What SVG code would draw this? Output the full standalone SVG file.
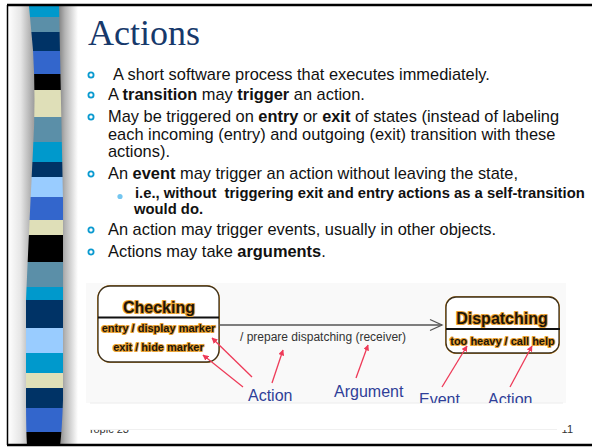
<svg xmlns="http://www.w3.org/2000/svg" width="592" height="447" viewBox="0 0 592 447">
  <defs>
    <style>
      .body { font-family: "Liberation Sans", Arial, sans-serif; font-size: 16.4px; fill: #111; }
      .sub { font-family: "Liberation Sans", Arial, sans-serif; font-size: 14.8px; font-weight: bold; fill: #111; }
      .b { font-weight: bold; }
      .ring { fill: none; stroke: #0a9ad0; stroke-width: 1.8; }
      .state { fill: #fff; stroke: #3b301e; stroke-width: 1.3; }
      .glow { fill: none; stroke: #e39a2b; stroke-width: 3; }
      .halo { font-family: "Liberation Sans", Arial, sans-serif; font-weight: bold; fill: #1c140a; stroke: #e8a030; stroke-width: 2.2; stroke-linejoin: round; paint-order: stroke; text-anchor: middle; }
      .divider { stroke: #111; stroke-width: 2; }
      .trans { stroke: #555; stroke-width: 1.3; fill: none; }
      .pointer { stroke: #ee3a58; stroke-width: 1.3; fill: none; marker-end: url(#redhead); }
      .note { font-family: "Liberation Sans", Arial, sans-serif; font-size: 16px; fill: #2f3f98; }
      .foot { font-family: "Liberation Sans", Arial, sans-serif; font-size: 11px; fill: #333; }
    </style>
    <linearGradient id="shadeL" x1="0" y1="0" x2="1" y2="0">
      <stop offset="0" stop-color="#ffffff"/>
      <stop offset="0.45" stop-color="#e6e6e6"/>
      <stop offset="1" stop-color="#949494"/>
    </linearGradient>
    <linearGradient id="shadeR" x1="0" y1="0" x2="1" y2="0">
      <stop offset="0" stop-color="#7c7c7c"/>
      <stop offset="0.35" stop-color="#b4b4b4"/>
      <stop offset="1" stop-color="#ffffff"/>
    </linearGradient>
    <clipPath id="band">
      <path d="M29,6 L59,6 Q61,100 63,200 L63,400 Q62,430 60,446 L27,446 Q26,430 26,400 L26,300 Q29,230 33,150 Q36,100 33,50 Z"/>
    </clipPath>
    <clipPath id="pic">
      <rect x="86" y="283" width="480" height="120"/>
    </clipPath>
    <marker id="redhead" viewBox="0 0 10 10" refX="9" refY="5" markerWidth="6" markerHeight="6" orient="auto" markerUnits="userSpaceOnUse">
      <path d="M0,0 L10,5 L0,10 Z" fill="#ee3a58"/>
    </marker>
  </defs>

  <rect x="0" y="0" width="592" height="447" fill="#fff"/>

  <!-- shaded column behind the striped band -->
  <rect x="8" y="6" width="28" height="439" fill="url(#shadeL)"/>
  <rect x="58" y="6" width="20" height="439" fill="url(#shadeR)"/>

  <!-- striped band -->
  <g id="stripes" clip-path="url(#band)">
    <rect x="20" y="6" width="50" height="11" fill="#0099cc"/>
    <rect x="20" y="17" width="50" height="15" fill="#5b8fa8"/>
    <rect x="20" y="32" width="50" height="19" fill="#003366"/>
    <rect x="20" y="51" width="50" height="23" fill="#3366cc"/>
    <rect x="20" y="74" width="50" height="16" fill="#000000"/>
    <rect x="20" y="90" width="50" height="27" fill="#dfdfb8"/>
    <rect x="20" y="117" width="50" height="25" fill="#5b8fa8"/>
    <rect x="20" y="142" width="50" height="20" fill="#0099cc"/>
    <rect x="20" y="162" width="50" height="15" fill="#003366"/>
    <rect x="20" y="177" width="50" height="20" fill="#99ccff"/>
    <rect x="20" y="197" width="50" height="23" fill="#3366cc"/>
    <rect x="20" y="220" width="50" height="15" fill="#dfdfb8"/>
    <rect x="20" y="235" width="50" height="27" fill="#000000"/>
    <rect x="20" y="262" width="50" height="25" fill="#5b8fa8"/>
    <rect x="20" y="287" width="50" height="13" fill="#0099cc"/>
    <rect x="20" y="300" width="50" height="28" fill="#003366"/>
    <rect x="20" y="328" width="50" height="25" fill="#99ccff"/>
    <rect x="20" y="353" width="50" height="20" fill="#0099cc"/>
    <rect x="20" y="373" width="50" height="15" fill="#dfdfb8"/>
    <rect x="20" y="388" width="50" height="20" fill="#003366"/>
    <rect x="20" y="408" width="50" height="24" fill="#3366cc"/>
    <rect x="20" y="432" width="50" height="14" fill="#000000"/>
  </g>

  <!-- page frame -->
  <g id="frame" stroke="#000" fill="none">
    <line x1="7" y1="5" x2="592" y2="5" stroke-width="2.5"/>
    <line x1="7.5" y1="5" x2="7.5" y2="445" stroke-width="1.5"/>
    <line x1="7" y1="445" x2="592" y2="445" stroke-width="2.5"/>
  </g>

  <!-- title -->
  <text x="88" y="45" font-family="'Liberation Serif', 'Times New Roman', serif" font-size="36" fill="#17396b">Actions</text>

  <!-- bullet list -->
  <g id="bullets">
    <circle class="ring" cx="91" cy="75" r="2.6"/>
    <circle class="ring" cx="91" cy="95" r="2.6"/>
    <circle class="ring" cx="91" cy="117" r="2.6"/>
    <circle class="ring" cx="91" cy="174" r="2.6"/>
    <circle class="ring" cx="91" cy="230" r="2.6"/>
    <circle class="ring" cx="91" cy="252" r="2.6"/>
    <circle cx="120" cy="196.5" r="2.6" fill="#74c6f0"/>

    <text class="body" x="113" y="80">A short software process that executes immediately.</text>
    <text class="body" x="108" y="100">A <tspan class="b">transition</tspan> may <tspan class="b">trigger</tspan> an action.</text>
    <text class="body" x="108" y="122">May be triggered on <tspan class="b">entry</tspan> or <tspan class="b">exit</tspan> of states (instead of labeling</text>
    <text class="body" x="108" y="139.5">each incoming (entry) and outgoing (exit) transition with these</text>
    <text class="body" x="108" y="157">actions).</text>
    <text class="body" x="108" y="179">An <tspan class="b">event</tspan> may trigger an action without leaving the state,</text>
    <text class="sub" x="135" y="198" xml:space="preserve">i.e., without  triggering exit and entry actions as a self-transition</text>
    <text class="sub" x="134" y="214">would do.</text>
    <text class="body" x="108" y="235">An action may trigger events, usually in other objects.</text>
    <text class="body" x="108" y="257">Actions may take <tspan class="b">arguments</tspan>.</text>
  </g>

  <!-- footer, partly covered by the figure panel -->
  <text class="foot" x="88" y="433">Topic 23</text>
  <text class="foot" x="573" y="433" text-anchor="end">11</text>

  <!-- figure panel -->
  <rect x="86" y="283" width="480" height="147" fill="#fff"/>
  <rect x="86" y="283" width="480" height="120" fill="#f9f9f9"/>
  <line x1="90" y1="403" x2="563" y2="403" stroke="#ececec" stroke-width="1"/>
  <line x1="90" y1="429.5" x2="557" y2="429.5" stroke="#f0f0f0" stroke-width="1"/>

  <g clip-path="url(#pic)">
    <!-- state: Checking -->
    <g id="state-checking">
      <rect class="glow" x="98.5" y="286.5" width="120" height="75" rx="12"/>
      <rect class="state" x="98" y="286" width="121" height="76" rx="12"/>
      <line class="divider" x1="98" y1="317.5" x2="219" y2="317.5"/>
      <text class="halo" x="159" y="313" font-size="16">Checking</text>
      <text class="halo" x="158.5" y="332" font-size="11">entry / display marker</text>
      <text class="halo" x="158.5" y="351" font-size="11">exit / hide marker</text>
    </g>

    <!-- state: Dispatching -->
    <g id="state-dispatching">
      <rect class="glow" x="446.5" y="297.5" width="112" height="55" rx="10"/>
      <rect class="state" x="446" y="297" width="113" height="56" rx="10"/>
      <line class="divider" x1="446" y1="329" x2="560" y2="329"/>
      <text class="halo" x="502" y="324" font-size="16">Dispatching</text>
      <text class="halo" x="502.5" y="345" font-size="11">too heavy / call help</text>
    </g>

    <!-- connectors -->
    <g id="connectors">
      <line class="trans" x1="219" y1="325" x2="442" y2="325"/>
      <polyline class="trans" points="430,319.5 442,325 430,330.5"/>
      <text x="240" y="341" font-family="'Liberation Sans', Arial, sans-serif" font-size="12" fill="#333">/ prepare dispatching (receiver)</text>

      <line class="pointer" x1="252" y1="377" x2="212" y2="338"/>
      <line class="pointer" x1="243" y1="387" x2="203" y2="355"/>
      <line class="pointer" x1="272" y1="383" x2="283" y2="350"/>
      <line class="pointer" x1="356" y1="378" x2="368" y2="345"/>
      <line class="pointer" x1="442" y1="387" x2="467" y2="346"/>
      <line class="pointer" x1="510" y1="387" x2="532" y2="346"/>
    </g>

    <!-- callout labels -->
    <g id="labels">
      <text class="note" x="248" y="401">Action</text>
      <text class="note" x="334" y="397">Argument</text>
      <text class="note" x="419" y="405">Event</text>
      <text class="note" x="488" y="405">Action</text>
    </g>
  </g>
</svg>
